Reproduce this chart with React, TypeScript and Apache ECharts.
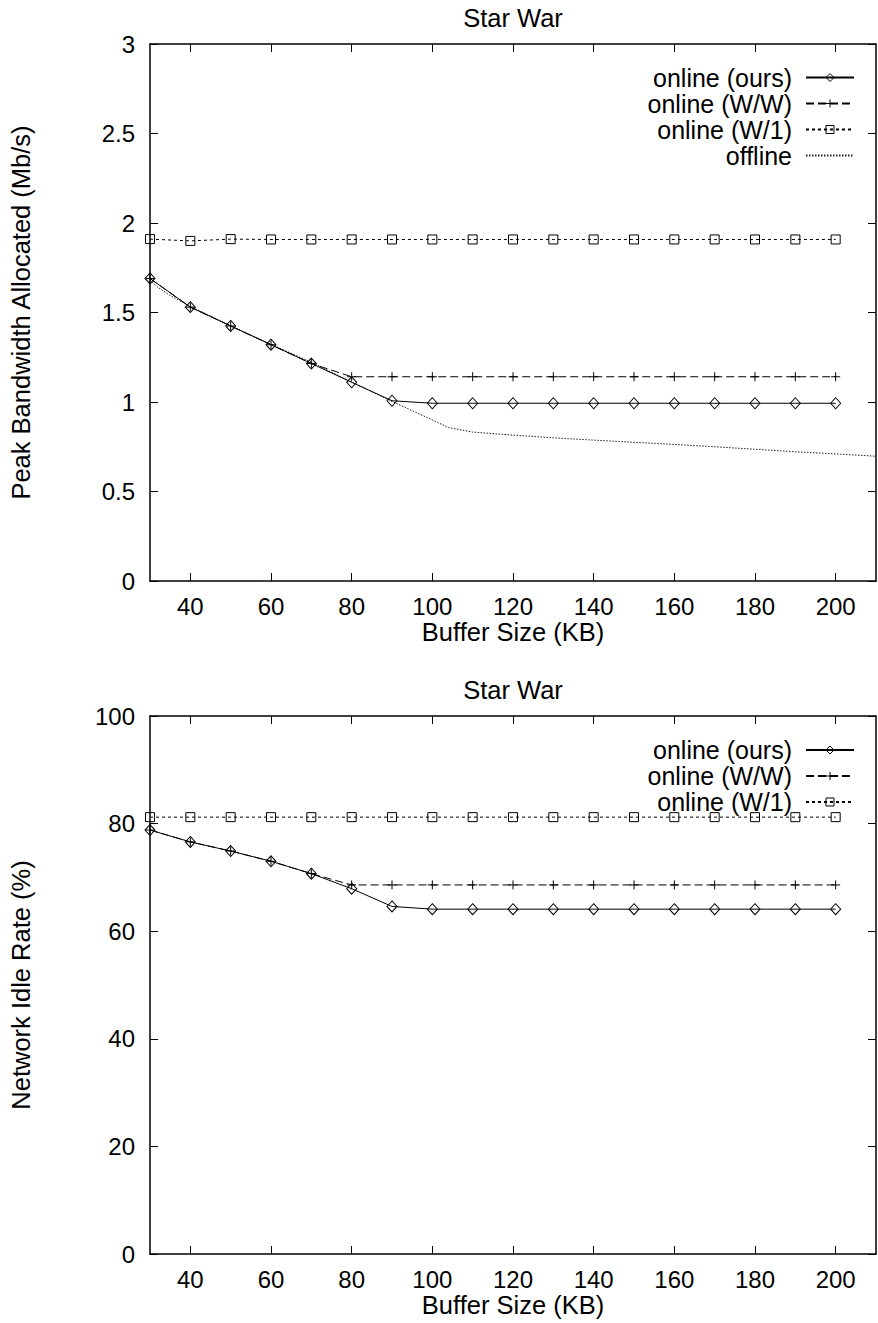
import React, { useEffect, useRef } from 'react';
import * as echarts from 'echarts';

// ---- data ----
const bufferSizes = [30, 40, 50, 60, 70, 80, 90, 100, 110, 120, 130, 140, 150, 160, 170, 180, 190, 200];
const xTickValues = [40, 60, 80, 100, 120, 140, 160, 180, 200];
const seriesNames = ['online (ours)', 'online (W/W)', 'online (W/1)', 'offline'];
const chartTitle = 'Star War';

const bwOurs = [1.69, 1.53, 1.425, 1.32, 1.215, 1.11, 1.007, 0.993, 0.993, 0.993, 0.993, 0.993, 0.993, 0.993, 0.993, 0.993, 0.993, 0.993];
const bwWW = [1.69, 1.53, 1.425, 1.32, 1.215, 1.141, 1.141, 1.141, 1.141, 1.141, 1.141, 1.141, 1.141, 1.141, 1.141, 1.141, 1.141, 1.141];
const bwW1 = [1.91, 1.9, 1.91, 1.908, 1.908, 1.908, 1.908, 1.908, 1.908, 1.908, 1.908, 1.908, 1.908, 1.908, 1.908, 1.908, 1.908, 1.908];
const offlineSizes = [30, 32, 35, 40, 50, 60, 70, 80, 90, 100, 104, 110, 120, 130, 140, 150, 160, 170, 180, 190, 200, 210];
const bwOffline = [1.68, 1.64, 1.595, 1.535, 1.425, 1.322, 1.222, 1.112, 1.003, 0.9, 0.857, 0.832, 0.815, 0.8, 0.787, 0.775, 0.763, 0.75, 0.736, 0.722, 0.71, 0.697];

const idleOurs = [78.8, 76.6, 74.9, 73.0, 70.7, 67.9, 64.6, 64.1, 64.1, 64.1, 64.1, 64.1, 64.1, 64.1, 64.1, 64.1, 64.1, 64.1];
const idleWW = [78.8, 76.6, 74.9, 73.0, 70.7, 68.6, 68.6, 68.6, 68.6, 68.6, 68.6, 68.6, 68.6, 68.6, 68.6, 68.6, 68.6, 68.6];
const idleW1 = [81.2, 81.2, 81.2, 81.2, 81.2, 81.2, 81.2, 81.2, 81.2, 81.2, 81.2, 81.2, 81.2, 81.2, 81.2, 81.2, 81.2, 81.2];

const FONT = 'Liberation Sans, Arial, Helvetica, sans-serif';
const FS = 24;
const FS_TEXT = 25.5;
const FS_LEGEND = 25;
const PLUS = 'path://M0,5L10,5M5,0L5,10';
const CLEAR = 'rgba(0,0,0,0)';

const pairs = (xs: number[], ys: number[]) => xs.map((x, i) => [x, ys[i]]);

function makeXAxes(gridIndex: number) {
  const base = {
    type: 'value' as const,
    gridIndex,
    min: 30,
    max: 210,
    splitLine: { show: false },
    axisLine: { show: true, onZero: false, lineStyle: { color: '#000', width: 1.5 } },
    axisTick: { show: true, inside: true, length: 8, customValues: xTickValues, lineStyle: { color: '#000', width: 1 } },
  };
  return [
    {
      ...base,
      position: 'bottom',
      axisLabel: { show: true, customValues: xTickValues, color: '#000', fontFamily: FONT, fontSize: FS, margin: 13 },
      name: 'Buffer Size (KB)',
      nameLocation: 'middle',
      nameGap: 37,
      nameTextStyle: { color: '#000', fontFamily: FONT, fontSize: FS_TEXT },
    },
    { ...base, position: 'top', axisLabel: { show: false } },
  ];
}

function makeYAxes(gridIndex: number, max: number, interval: number, name: string) {
  const base = {
    type: 'value' as const,
    gridIndex,
    min: 0,
    max,
    interval,
    splitLine: { show: false },
    axisLine: { show: true, onZero: false, lineStyle: { color: '#000', width: 1.5 } },
    axisTick: { show: true, inside: true, length: 8, lineStyle: { color: '#000', width: 1 } },
  };
  return [
    {
      ...base,
      position: 'left',
      axisLabel: { show: true, color: '#000', fontFamily: FONT, fontSize: FS, margin: 15 },
      name,
      nameLocation: 'middle',
      nameGap: 116,
      nameTextStyle: { color: '#000', fontFamily: FONT, fontSize: FS_TEXT },
    },
    { ...base, position: 'right', axisLabel: { show: false } },
  ];
}

function lineSeries(name: string, data: number[][], axisIdx: number, kind: 'ours' | 'ww' | 'w1' | 'off') {
  const dash: any = kind === 'ours' ? 'solid' : kind === 'ww' ? [8, 4] : kind === 'w1' ? [3, 3] : [1.5, 1.5];
  const symbol = kind === 'ours' ? 'diamond' : kind === 'ww' ? PLUS : kind === 'w1' ? 'rect' : 'none';
  return {
    type: 'line',
    name,
    xAxisIndex: axisIdx,
    yAxisIndex: axisIdx,
    data,
    symbol,
    symbolSize: kind === 'ours' ? [10, 11] : 9,
    showSymbol: kind !== 'off',
    itemStyle: { color: CLEAR, borderColor: '#000', borderWidth: 1 },
    lineStyle: { color: kind === 'off' ? '#222' : '#000', width: 1, type: dash },
    emphasis: { disabled: true },
    z: kind === 'ours' ? 5 : 3,
  };
}

function legendFor(names: string[], top: number) {
  return {
    orient: 'vertical',
    right: 23,
    top,
    padding: 0,
    itemGap: 0,
    itemWidth: 48,
    itemHeight: 10,
    align: 'right',
    selectedMode: false,
    data: names.map((n) =>
      n === 'offline' ? { name: n, itemStyle: { opacity: 0 } } : { name: n }
    ),
    itemStyle: { color: CLEAR, borderColor: '#000', borderWidth: 1 },
    textStyle: { color: '#000', fontFamily: FONT, fontSize: FS_LEGEND, lineHeight: 26, padding: [0, 9, 0, 0] },
  };
}

export default function App() {
  const ref = useRef<HTMLDivElement>(null);
  useEffect(() => {
    document.body.style.margin = '0';
    const chart = echarts.init(ref.current!, undefined, { renderer: 'svg' });
    const xAxes = [...makeXAxes(0), ...makeXAxes(1)];
    const yAxes = [
      ...makeYAxes(0, 3, 0.5, 'Peak Bandwidth Allocated (Mb/s)'),
      ...makeYAxes(1, 100, 20, 'Network Idle Rate (%)'),
    ];
    const titleStyle = { color: '#000', fontFamily: FONT, fontSize: FS_TEXT, fontWeight: 'normal' };
    chart.setOption({
      animation: false,
      backgroundColor: '#fff',
      textStyle: { fontFamily: FONT },
      title: [
        { text: chartTitle, left: 513, top: 5, padding: 0, textAlign: 'center', textStyle: titleStyle },
        { text: chartTitle, left: 513, top: 677, padding: 0, textAlign: 'center', textStyle: titleStyle },
      ],
      legend: [legendFor(seriesNames, 64.5), legendFor(seriesNames.slice(0, 3), 737)],
      grid: [
        { left: 150, top: 44, width: 726, height: 537, containLabel: false },
        { left: 150, top: 716, width: 726, height: 538, containLabel: false },
      ],
      xAxis: xAxes,
      yAxis: yAxes,
      series: [
        lineSeries(seriesNames[0], pairs(bufferSizes, bwOurs), 0, 'ours'),
        lineSeries(seriesNames[1], pairs(bufferSizes, bwWW), 0, 'ww'),
        lineSeries(seriesNames[2], pairs(bufferSizes, bwW1), 0, 'w1'),
        lineSeries(seriesNames[3], pairs(offlineSizes, bwOffline), 0, 'off'),
        lineSeries(seriesNames[0], pairs(bufferSizes, idleOurs), 2, 'ours'),
        lineSeries(seriesNames[1], pairs(bufferSizes, idleWW), 2, 'ww'),
        lineSeries(seriesNames[2], pairs(bufferSizes, idleW1), 2, 'w1'),
      ],
    });
    return () => chart.dispose();
  }, []);
  return <div ref={ref} style={{ position: 'absolute', left: 0, top: 0, width: 878, height: 1323 }} />;
}
